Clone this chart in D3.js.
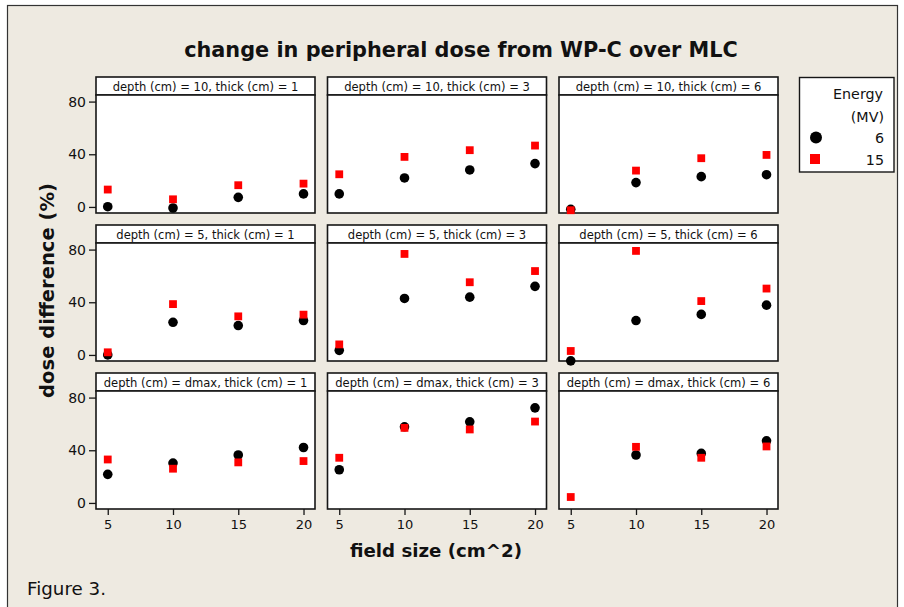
<!DOCTYPE html>
<html>
<head>
<meta charset="utf-8">
<script src="https://cdn.jsdelivr.net/npm/d3@7"></script>
<style>
  html, body { margin: 0; padding: 0; background: #ffffff; }
  svg { display: block; }
  text { font-family: "DejaVu Sans", Verdana, sans-serif; fill: #111; }
</style>
</head>
<body>
<svg id="chart" width="904" height="607"></svg>
<script>
// ---------------- data ----------------
const fieldSize = [5, 10, 15, 20];
const depthLabels = ["10", "5", "dmax"];
const thickLabels = ["1", "3", "6"];
const energies = ["6", "15"];
const yTicks = [0, 40, 80];

// dose difference (%) for 6 MV, one array per panel (row = depth, col = thick)
const mv6_d10 = [[0.2, -0.8, 7.3, 9.9], [9.9, 22.0, 28.1, 32.9], [-1.8, 18.5, 23.0, 24.5]];
const mv6_d5 = [[0.0, 24.8, 22.3, 26.1], [3.5, 42.9, 43.9, 52.1], [-4.5, 26.1, 30.8, 37.8]];
const mv6_dmax = [[21.7, 30.3, 36.4, 42.1], [25.2, 57.8, 61.6, 72.2], [null, 36.4, 37.6, 47.2]];
// dose difference (%) for 15 MV
const mv15_d10 = [[13.2, 5.8, 16.5, 17.7], [24.8, 38.0, 43.1, 46.6], [-2.5, 27.6, 37.0, 39.5]];
const mv15_d5 = [[2.0, 38.6, 29.3, 30.6], [8.0, 76.7, 55.2, 63.7], [3.0, 79.0, 40.9, 50.4]];
const mv15_dmax = [[33.0, 26.0, 30.8, 31.8], [34.3, 57.0, 55.8, 61.8], [4.5, 42.6, 34.3, 42.9]];

const mv6 = [mv6_d10, mv6_d5, mv6_dmax];
const mv15 = [mv15_d10, mv15_d5, mv15_dmax];

// ---------------- layout ----------------
const W = 904, H = 607;
const bg = "#EEEAE1";
const ink = "#161616";
const colLeft = [96, 327.5, 559];
const panelW = 219;
const rowTop = [77, 225, 373];
const stripH = 18;
const plotH = 118;

const svg = d3.select("#chart");

// outer white margin + beige frame
svg.append("rect").attr("x", 0).attr("y", 0).attr("width", W).attr("height", H).attr("fill", "#fff");
svg.append("rect").attr("x", 7.5).attr("y", 5.5).attr("width", 890).attr("height", 620)
  .attr("fill", bg).attr("stroke", "#333").attr("stroke-width", 1.2);

function fit(sel, target) {
  const w = sel.node().getComputedTextLength();
  const fs = parseFloat(sel.attr("font-size"));
  sel.attr("font-size", fs * target / w);
  return sel;
}

// title
fit(svg.append("text").attr("x", 461).attr("y", 57).attr("text-anchor", "middle")
  .attr("font-size", 20).attr("font-weight", "bold")
  .text("change in peripheral dose from WP-C over MLC"), 554);

const x = d3.scaleLinear().domain([4.1, 20.88]).range([0, panelW]);
const y = d3.scaleLinear().domain([-4.6, 85]).range([plotH, 0]);

// strip label font size
let stripFont = 12;
{
  const t = svg.append("text").attr("font-size", 12).text("depth (cm) = 10, thick (cm) = 1");
  stripFont = 12 * 186 / t.node().getComputedTextLength();
  t.remove();
}

for (let r = 0; r < 3; r++) {
  for (let c = 0; c < 3; c++) {
    const g = svg.append("g").attr("transform", `translate(${colLeft[c]},${rowTop[r]})`);
    // strip
    g.append("rect").attr("x", 0).attr("y", 0).attr("width", panelW).attr("height", stripH)
      .attr("fill", "#fff").attr("stroke", ink).attr("stroke-width", 1.6);
    g.append("text").attr("x", panelW / 2).attr("y", stripH / 2 + 4.5).attr("text-anchor", "middle")
      .attr("font-size", stripFont).attr("fill", "#222")
      .text(`depth (cm) = ${depthLabels[r]}, thick (cm) = ${thickLabels[c]}`);
    const p = g.append("g").attr("transform", `translate(0,${stripH})`);
    p.append("rect").attr("x", 0).attr("y", 0).attr("width", panelW).attr("height", plotH)
      .attr("fill", "#fff").attr("stroke", ink).attr("stroke-width", 1.6);

    if (c === 0) {
      const ax = p.append("g").call(d3.axisLeft(y).tickValues(yTicks).tickSize(7).tickPadding(3));
      ax.select(".domain").remove();
      ax.selectAll("line").attr("stroke", ink).attr("stroke-width", 1.3);
      ax.selectAll("text").attr("font-size", 14).attr("fill", "#1a1a1a")
        .style("font-family", '"DejaVu Sans", sans-serif');
    }
    if (r === 2) {
      const ax = p.append("g").attr("transform", `translate(0,${plotH})`)
        .call(d3.axisBottom(x).tickValues(fieldSize).tickSize(6).tickPadding(5));
      ax.select(".domain").remove();
      ax.selectAll("line").attr("stroke", ink).attr("stroke-width", 1.3);
      ax.selectAll("text").attr("font-size", 13).attr("fill", "#1a1a1a")
        .style("font-family", '"DejaVu Sans", sans-serif');
    }

    const d6 = fieldSize.map((f, i) => ({ f, v: mv6[r][c][i] })).filter(d => d.v !== null);
    const d15 = fieldSize.map((f, i) => ({ f, v: mv15[r][c][i] })).filter(d => d.v !== null);
    p.selectAll("circle.e6").data(d6).enter().append("circle")
      .attr("cx", d => x(d.f)).attr("cy", d => y(d.v)).attr("r", 4.8).attr("fill", "#000");
    const s = 7.8;
    p.selectAll("rect.e15").data(d15).enter().append("rect")
      .attr("x", d => x(d.f) - s / 2).attr("y", d => y(d.v) - s / 2)
      .attr("width", s).attr("height", s).attr("fill", "#ff0000");
  }
}

// axis labels
fit(svg.append("text").attr("transform", "translate(54,290.5) rotate(-90)").attr("text-anchor", "middle")
  .attr("font-size", 18).attr("font-weight", "bold").text("dose difference (%)"), 215);
fit(svg.append("text").attr("x", 436).attr("y", 557).attr("text-anchor", "middle")
  .attr("font-size", 18).attr("font-weight", "bold").text("field size (cm^2)"), 172);

fit(svg.append("text").attr("x", 27).attr("y", 595).attr("font-size", 16).text("Figure 3."), 79);

// legend
const lg = svg.append("g");
lg.append("rect").attr("x", 799.5).attr("y", 77.5).attr("width", 94.5).attr("height", 94.5)
  .attr("fill", "#fff").attr("stroke", ink).attr("stroke-width", 1.4);
const e = fit(lg.append("text").attr("x", 883).attr("y", 99).attr("text-anchor", "end")
  .attr("font-size", 14).text("Energy"), 50);
const lf = e.attr("font-size");
lg.append("text").attr("x", 884).attr("y", 122).attr("text-anchor", "end").attr("font-size", lf).text("(MV)");
lg.append("circle").attr("cx", 816).attr("cy", 137.5).attr("r", 6).attr("fill", "#000");
lg.append("text").attr("x", 884).attr("y", 143).attr("text-anchor", "end").attr("font-size", lf).text(energies[0]);
lg.append("rect").attr("x", 810).attr("y", 154).attr("width", 10).attr("height", 10).attr("fill", "#ff0000");
lg.append("text").attr("x", 884).attr("y", 165).attr("text-anchor", "end").attr("font-size", lf).text(energies[1]);
</script>
</body>
</html>
